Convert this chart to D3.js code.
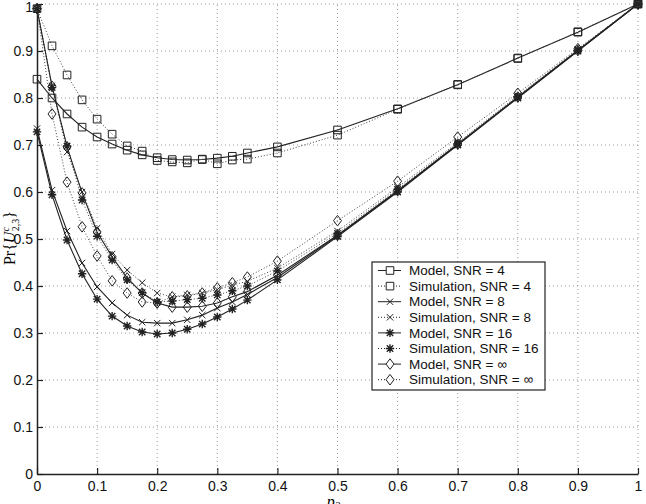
<!DOCTYPE html>
<html>
<head>
<meta charset="utf-8">
<script src="https://cdn.jsdelivr.net/npm/d3@7"></script>
<style>
  body { margin: 0; background: #fff; }
  text { font-family: "Liberation Sans", Arial, sans-serif; }
</style>
</head>
<body>
<div id="chart"></div>
<script>
// p2 values where the curves are sampled
const p2 = [0, 0.025, 0.05, 0.075, 0.1, 0.125, 0.15, 0.175, 0.2, 0.225, 0.25, 0.275,
            0.3, 0.325, 0.35, 0.4, 0.5, 0.6, 0.7, 0.8, 0.9, 1];

const modelSnr4 = [0.840, 0.800, 0.766, 0.738, 0.717, 0.702, 0.689, 0.679, 0.673, 0.669, 0.668, 0.669,
                   0.672, 0.676, 0.683, 0.696, 0.732, 0.777, 0.828, 0.885, 0.940, 1.0];
const simSnr4 = [0.990, 0.911, 0.849, 0.796, 0.755, 0.723, 0.698, 0.687, 0.667, 0.664, 0.662, 0.670,
                 0.660, 0.668, 0.670, 0.683, 0.721, 0.776, 0.829, 0.884, 0.941, 1.0];
const modelSnr8 = [0.735, 0.604, 0.517, 0.449, 0.398, 0.364, 0.338, 0.323, 0.321, 0.321, 0.328, 0.338,
                   0.353, 0.366, 0.382, 0.418, 0.507, 0.602, 0.701, 0.801, 0.901, 1.0];
const simSnr8 = [0.990, 0.826, 0.685, 0.600, 0.523, 0.468, 0.434, 0.407, 0.385, 0.377, 0.381, 0.385,
                 0.392, 0.402, 0.410, 0.438, 0.517, 0.610, 0.705, 0.805, 0.903, 1.0];
const modelSnr16 = [0.728, 0.594, 0.498, 0.426, 0.372, 0.336, 0.315, 0.302, 0.298, 0.300, 0.308, 0.319,
                    0.334, 0.351, 0.370, 0.413, 0.505, 0.600, 0.700, 0.800, 0.900, 1.0];
const simSnr16 = [0.990, 0.822, 0.698, 0.583, 0.506, 0.455, 0.413, 0.386, 0.366, 0.368, 0.371, 0.374,
                  0.381, 0.390, 0.400, 0.432, 0.512, 0.606, 0.703, 0.803, 0.902, 1.0];
const modelSnrInf = [0.990, 0.825, 0.696, 0.598, 0.515, 0.462, 0.417, 0.385, 0.364, 0.355, 0.355, 0.357,
                     0.364, 0.377, 0.388, 0.423, 0.508, 0.603, 0.702, 0.802, 0.901, 1.0];
const simSnrInf = [0.990, 0.766, 0.621, 0.526, 0.464, 0.411, 0.385, 0.366, 0.364, 0.377, 0.379, 0.385,
                   0.396, 0.407, 0.419, 0.453, 0.539, 0.623, 0.717, 0.810, 0.905, 1.0];

const xTicks = [0, 0.1, 0.2, 0.3, 0.4, 0.5, 0.6, 0.7, 0.8, 0.9, 1];
const yTicks = [0, 0.1, 0.2, 0.3, 0.4, 0.5, 0.6, 0.7, 0.8, 0.9, 1];

const legendLabels = ["Model, SNR = 4", "Simulation, SNR = 4", "Model, SNR = 8", "Simulation, SNR = 8",
                      "Model, SNR = 16", "Simulation, SNR = 16", "Model, SNR = \u221E", "Simulation, SNR = \u221E"];

const series = [
    { values: modelSnr4, marker: "square", dotted: false },
    { values: simSnr4, marker: "square", dotted: true },
    { values: modelSnr8, marker: "cross", dotted: false },
    { values: simSnr8, marker: "cross", dotted: true },
    { values: modelSnr16, marker: "star", dotted: false },
    { values: simSnr16, marker: "star", dotted: true },
    { values: modelSnrInf, marker: "diamond", dotted: false },
    { values: simSnrInf, marker: "diamond", dotted: true }
];

function main() {
    const svg = d3.select("#chart").append("svg")
        .attr("width", 646)
        .attr("height", 504);

    const x = d3.scaleLinear().domain([0, 1]).range([37, 638]);
    const y = d3.scaleLinear().domain([0, 1]).range([474, 4]);

    // dotted grid
    const grid = svg.append("g")
        .attr("stroke", "#999")
        .attr("stroke-width", 1)
        .attr("stroke-dasharray", "1,3");
    grid.selectAll("line.gx").data(xTicks.slice(1)).enter().append("line")
        .attr("x1", d => x(d)).attr("x2", d => x(d))
        .attr("y1", y(0)).attr("y2", y(1));
    grid.selectAll("line.gy").data(yTicks.slice(1)).enter().append("line")
        .attr("x1", x(0)).attr("x2", x(1))
        .attr("y1", d => y(d)).attr("y2", d => y(d));

    // axes with inward ticks
    const xAxis = svg.append("g")
        .attr("transform", "translate(0," + y(0) + ")")
        .call(d3.axisBottom(x).tickValues(xTicks).tickSizeInner(-6).tickSizeOuter(0)
            .tickFormat(d3.format("")));
    const yAxis = svg.append("g")
        .attr("transform", "translate(" + x(0) + ",0)")
        .call(d3.axisLeft(y).tickValues(yTicks).tickSizeInner(-6).tickSizeOuter(0)
            .tickFormat(d3.format("")));
    [xAxis, yAxis].forEach(a => {
        a.select(".domain").attr("stroke", "#222").attr("stroke-width", 1.5);
        a.selectAll(".tick line").attr("stroke", "#222").attr("stroke-width", 1.2);
        a.selectAll(".tick text").attr("fill", "#111")
            .style("font-size", "14px")
            .style("font-family", "'Liberation Sans', Arial, sans-serif");
    });
    xAxis.selectAll(".tick text").attr("y", 5).attr("dy", "0.85em");
    yAxis.selectAll(".tick text").attr("x", -4);
    yAxis.selectAll(".tick text").filter(d => d === 1).attr("dy", "0.5em");

    // axis labels
    svg.append("text")
        .attr("x", x(0.5) - 4).attr("y", 507)
        .attr("text-anchor", "middle")
        .style("font-family", "'Liberation Serif', serif")
        .style("font-style", "italic")
        .style("font-size", "16px")
        .html('p<tspan dy="2" font-size="11px">2</tspan>');

    const yl = svg.append("text")
        .attr("transform", "translate(15,238) rotate(-90)")
        .attr("text-anchor", "middle")
        .style("font-family", "'Liberation Serif', serif")
        .style("font-size", "16px");
    yl.append("tspan").text("Pr{");
    yl.append("tspan").style("font-style", "italic").text("U");
    yl.append("tspan").attr("dy", -6).attr("font-size", "10px").style("font-style", "italic").text("c");
    yl.append("tspan").attr("dx", -4).attr("dy", 10).attr("font-size", "10px").text("2,3");
    yl.append("tspan").attr("dy", -4).text("}");

    const line = d3.line()
        .x((d, i) => x(p2[i]))
        .y(d => y(d));

    function markerPath(type) {
        if (type === "square") return "M-3.8,-3.8H3.8V3.8H-3.8Z";
        if (type === "diamond") return "M0,-5.3L4,0L0,5.3L-4,0Z";
        if (type === "cross") return "M-3.2,-3.2L3.2,3.2M-3.2,3.2L3.2,-3.2";
        return "M-3.2,-3.2L3.2,3.2M-3.2,3.2L3.2,-3.2M0,-4.2V4.2M-4.2,0H4.2";
    }

    const plot = svg.append("g");
    series.forEach(s => {
        plot.append("path")
            .datum(s.values)
            .attr("d", line)
            .attr("fill", "none")
            .attr("stroke", s.dotted ? "#444" : "#222")
            .attr("stroke-width", s.dotted ? 1 : 1.1)
            .attr("stroke-dasharray", s.dotted ? "1,2" : null);
    });
    series.forEach(s => {
        plot.selectAll(null)
            .data(s.values)
            .enter().append("path")
            .attr("transform", (d, i) => "translate(" + x(p2[i]) + "," + y(d) + ")")
            .attr("d", markerPath(s.marker))
            .attr("fill", "none")
            .attr("stroke", "#222")
            .attr("stroke-width", s.marker === "star" ? 1.4 : 1);
    });

    // legend
    const lg = svg.append("g").attr("transform", "translate(372,262)");
    lg.append("rect")
        .attr("width", 173).attr("height", 128)
        .attr("fill", "#fff").attr("stroke", "#222").attr("stroke-width", 1.2);
    const rows = lg.selectAll("g.row").data(series).enter().append("g")
        .attr("transform", (d, i) => "translate(0," + (8.5 + i * 15.6) + ")");
    rows.append("line")
        .attr("x1", 6).attr("x2", 29)
        .attr("stroke", "#222")
        .attr("stroke-dasharray", d => d.dotted ? "1,2" : null);
    rows.append("path")
        .attr("transform", "translate(18,0)")
        .attr("d", d => markerPath(d.marker))
        .attr("fill", "#fff")
        .attr("stroke", "#222")
        .attr("stroke-width", d => d.marker === "star" ? 1.4 : 1);
    rows.append("text")
        .attr("x", 37).attr("dy", "0.35em")
        .style("font-size", "13.5px")
        .attr("fill", "#111")
        .text((d, i) => legendLabels[i]);
}
main();
</script>
</body>
</html>
